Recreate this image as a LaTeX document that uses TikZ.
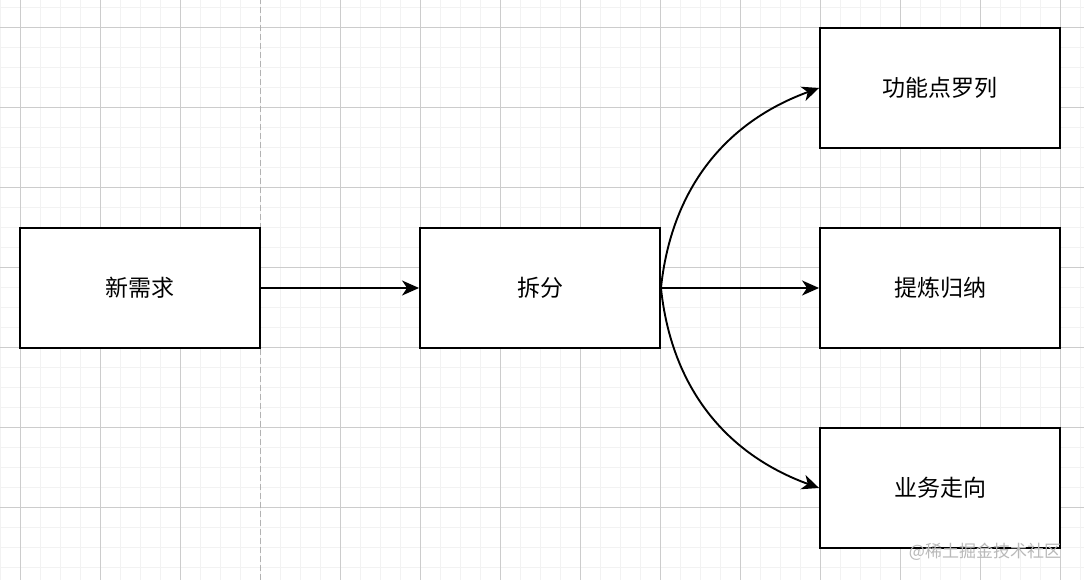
\documentclass[tikz,border=0pt]{standalone}
\usepackage{fontspec}
\setmainfont{Noto Sans CJK SC}
\usetikzlibrary{arrows.meta}

\begin{document}
\begin{tikzpicture}[
  x=1pt,
  y=1pt,
  box/.style={
    draw=black,
    fill=white,
    line width=1.9pt,
    minimum width=240pt,
    minimum height=120pt,
    inner sep=0pt,
    font=\fontsize{23}{27}\selectfont
  },
  flow/.style={
    draw=black,
    line width=1.9pt,
    -{Stealth[length=17pt,width=15pt,inset=5pt]}
  },
  minorgrid/.style={draw=gray!10, line width=1pt},
  majorgrid/.style={draw=gray!40, line width=1pt},
  divider/.style={draw=gray!60, line width=1pt, dash pattern=on 6pt off 3pt},
  watermark/.style={font=\fontsize{17}{19}\selectfont, text=gray!55}
]
\useasboundingbox (0,0) rectangle (1084,580);
\fill[white] (0,0) rectangle (1084,580);

% ---------------------------------------------------------------------------
% Background grid
% ---------------------------------------------------------------------------
\foreach \gx in {0,20,...,1080} \draw[minorgrid] (\gx,0) -- (\gx,580);
\foreach \gy in {12,32,...,572} \draw[minorgrid] (0,\gy) -- (1084,\gy);
\foreach \gx in {20,100,180,340,420,...,1060} \draw[majorgrid] (\gx,0) -- (\gx,580);
\foreach \gy in {72,152,...,552} \draw[majorgrid] (0,\gy) -- (1084,\gy);
\draw[divider] (260,0) -- (260,580);

% ---------------------------------------------------------------------------
% Boxes
% ---------------------------------------------------------------------------
\node[box] (need) at (140,292) {新需求};
\node[box] (split) at (540,292) {拆分};
\node[box] (func) at (940,492) {功能点罗列};
\node[box] (sum) at (940,292) {提炼归纳};
\node[box] (biz) at (940,92) {业务走向};

% ---------------------------------------------------------------------------
% Connectors
% ---------------------------------------------------------------------------
\draw[flow] (need.east) -- (split.west);
\draw[flow] (split.east) -- (sum.west);
\draw[flow] (split.east) to[out=84, in=200] (func.west);
\draw[flow] (split.east) to[out=-84, in=160] (biz.west);

\node[watermark] (wm) at (985,28) {@稀土掘金技术社区};
\end{tikzpicture}
\end{document}
